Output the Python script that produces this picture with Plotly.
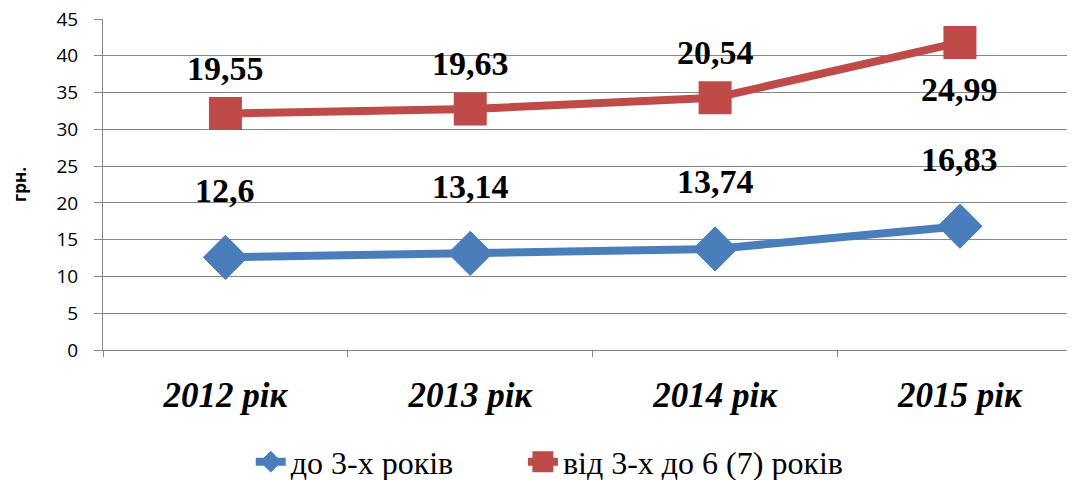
import plotly.graph_objects as go

categories = ["2012 рік", "2013 рік", "2014 рік", "2015 рік"]
under3 = [12.6, 13.14, 13.74, 16.83]
from3to6 = [19.55, 19.63, 20.54, 24.99]
name_a = "до 3-х років"
name_b = "від 3-х до 6 (7) років"
y_ticks = [0, 5, 10, 15, 20, 25, 30, 35, 40, 45]

stacked_b = [a + b for a, b in zip(under3, from3to6)]

def fmt(v):
    s = ("%.2f" % v).rstrip("0").rstrip(".")
    return s.replace(".", ",")

blue = "#4A7EBB"
red = "#BE4B48"

fig = go.Figure()
fig.add_trace(go.Scatter(
    x=categories, y=under3, name=name_a, mode="lines+markers", legend="legend",
    line=dict(color=blue, width=8),
    marker=dict(symbol="diamond", size=34, color=blue, line=dict(color=blue, width=1)),
))
fig.add_trace(go.Scatter(
    x=categories, y=stacked_b, name=name_b, mode="lines+markers", legend="legend2",
    line=dict(color=red, width=8),
    marker=dict(symbol="square", size=28, color=red, line=dict(color=red, width=5)),
))

lab_font = dict(family="Liberation Serif", size=34, color="black")
for i, c in enumerate(categories):
    fig.add_annotation(x=c, y=under3[i], text="<b>%s</b>" % fmt(under3[i]),
                       showarrow=False, yshift=67, font=lab_font)
    shift = 45 if i < 3 else -47
    fig.add_annotation(x=c, y=stacked_b[i], text="<b>%s</b>" % fmt(from3to6[i]),
                       showarrow=False, yshift=shift, font=lab_font)

leg_font = dict(family="Liberation Serif", size=32, color="black")
fig.update_layout(
    width=1075, height=488,
    margin=dict(l=95, r=8, t=11, b=145),
    paper_bgcolor="white", plot_bgcolor="white",
    font=dict(family="Liberation Serif", size=24, color="black"),
    showlegend=True,
    legend=dict(orientation="h", x=0.152, xanchor="left", y=-0.334, yanchor="middle",
                font=leg_font, bgcolor="rgba(0,0,0,0)"),
    legend2=dict(orientation="h", x=0.432, xanchor="left", y=-0.334, yanchor="middle",
                 font=leg_font, bgcolor="rgba(0,0,0,0)"),
    xaxis=dict(
        type="category", range=[-0.5, 3.47], automargin=False,
        tickfont=dict(family="Liberation Serif", size=35, color="black"),
        ticks="outside", ticklen=6, tickcolor="#868686", tickson="boundaries",
        ticklabelstandoff=14,
        showline=True, linecolor="#868686", linewidth=1,
        showgrid=False, zeroline=False,
    ),
    yaxis=dict(
        range=[0, 45], tickvals=y_ticks, ticktext=[str(v) for v in y_ticks],
        automargin=False, ticklabeloverflow="allow",
        tickfont=dict(family="Open Sans", size=19, color="black"),
        ticks="outside", ticklen=8, tickcolor="#868686", ticklabelstandoff=12,
        showline=True, linecolor="#868686", linewidth=1,
        showgrid=True, gridcolor="#868686", gridwidth=1,
        zeroline=False,
        title=dict(text="<b>грн.</b>", font=dict(family="Open Sans", size=17, color="black"), standoff=38),
    ),
)
fig.update_xaxes(ticktext=["<b><i>%s</i></b>" % c for c in categories], tickvals=categories)

fig.write_html("out.html")
